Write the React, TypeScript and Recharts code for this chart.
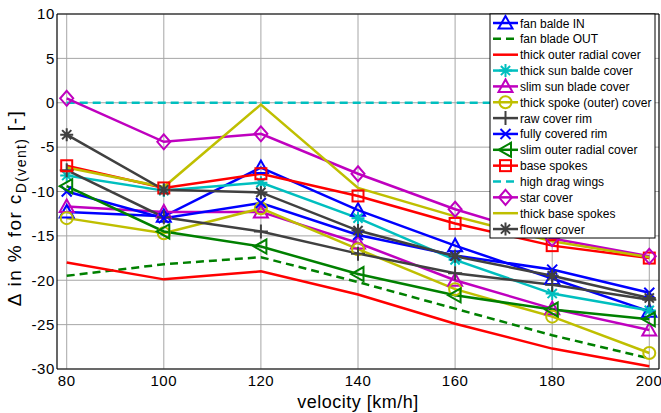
import React from 'react';
import { LineChart, Line, XAxis, YAxis, CartesianGrid, ReferenceLine } from 'recharts';

const velocities = [80, 100, 120, 140, 160, 180, 200];
const xTicks = [80, 100, 120, 140, 160, 180, 200];
const yTicks = [-30, -25, -20, -15, -10, -5, 0, 5, 10];

const fanBladeIn = [-12.3, -12.8, -7.3, -12.1, -16.1, -19.8, -23.5];
const fanBladeOut = [-19.5, -18.2, -17.4, -20.2, -23.2, -26.2, -28.8];
const thickOuterRadial = [-18.0, -19.9, -19.0, -21.6, -24.9, -27.7, -29.7];
const thickSunBlade = [-8.2, -9.9, -9.0, -13.0, -17.7, -21.5, -23.4];
const slimSunBlade = [-11.7, -12.3, -12.3, -15.8, -20.0, -23.2, -25.6];
const thickSpokeOuter = [-13.0, -14.7, -11.9, -16.5, -21.0, -24.1, -28.2];
const rawCoverRim = [-7.6, -12.9, -14.5, -17.0, -19.2, -20.5, -22.2];
const fullyCoveredRim = [-10.0, -13.0, -11.3, -14.9, -17.2, -18.8, -21.4];
const slimOuterRadial = [-9.4, -14.5, -16.2, -19.3, -21.7, -23.3, -24.4];
const baseSpokes = [-7.1, -9.6, -8.0, -10.5, -13.6, -16.1, -17.5];
const highDragWings = [0, 0, 0, 0, 0, 0, 0];
const starCover = [0.5, -4.4, -3.5, -8.0, -12.0, -15.3, -17.3];
const thickBaseSpokes = [-7.3, -9.5, -0.2, -9.6, -12.8, -15.6, -17.4];
const flowerCover = [-3.6, -9.8, -10.1, -14.4, -17.3, -19.5, -22.0];

const seriesNames = [
  'fan balde IN', 'fan blade OUT', 'thick outer radial cover', 'thick sun balde cover',
  'slim sun blade cover', 'thick spoke (outer) cover', 'raw cover rim', 'fully covered rim',
  'slim outer radial cover', 'base spokes', 'high drag wings', 'star cover',
  'thick base spokes', 'flower cover',
];
const seriesValues = [
  fanBladeIn, fanBladeOut, thickOuterRadial, thickSunBlade, slimSunBlade, thickSpokeOuter,
  rawCoverRim, fullyCoveredRim, slimOuterRadial, baseSpokes, highDragWings, starCover,
  thickBaseSpokes, flowerCover,
];

const BLUE = '#0000ff', GREEN = '#008000', RED = '#ff0000', CYAN = '#00bfbf',
  MAGENTA = '#bf00bf', YELLOW = '#bfbf00', GRAY = '#404040';

const styles = [
  { color: BLUE, marker: 'triUp', dash: undefined },
  { color: GREEN, marker: 'none', dash: '8 5' },
  { color: RED, marker: 'none', dash: undefined },
  { color: CYAN, marker: 'star', dash: undefined },
  { color: MAGENTA, marker: 'triUp', dash: undefined },
  { color: YELLOW, marker: 'circle', dash: undefined },
  { color: GRAY, marker: 'plus', dash: undefined },
  { color: BLUE, marker: 'x', dash: undefined },
  { color: GREEN, marker: 'triLeft', dash: undefined },
  { color: RED, marker: 'square', dash: undefined },
  { color: CYAN, marker: 'none', dash: '8 5' },
  { color: MAGENTA, marker: 'diamond', dash: undefined },
  { color: YELLOW, marker: 'none', dash: undefined },
  { color: GRAY, marker: 'star', dash: undefined },
];

const data = velocities.map((v, i) => {
  const row: any = { v };
  seriesValues.forEach((arr, k) => { row['s' + k] = arr[i]; });
  return row;
});

function Marker({ shape, cx, cy, color }: { shape: string; cx: number; cy: number; color: string }) {
  const p = { fill: 'none', stroke: color, strokeWidth: 2 };
  switch (shape) {
    case 'triUp':
      return <polygon {...p} points={`${cx},${cy - 7} ${cx - 7},${cy + 5.5} ${cx + 7},${cy + 5.5}`} />;
    case 'triLeft':
      return <polygon {...p} points={`${cx - 7},${cy} ${cx + 5.5},${cy - 7} ${cx + 5.5},${cy + 7}`} />;
    case 'circle':
      return <circle {...p} cx={cx} cy={cy} r={6} />;
    case 'square':
      return <rect {...p} x={cx - 5.5} y={cy - 5.5} width={11} height={11} />;
    case 'diamond':
      return <polygon {...p} points={`${cx},${cy - 7.5} ${cx + 6.5},${cy} ${cx},${cy + 7.5} ${cx - 6.5},${cy}`} />;
    case 'plus':
      return <path {...p} d={`M${cx - 7},${cy}H${cx + 7}M${cx},${cy - 7}V${cy + 7}`} />;
    case 'x':
      return <path {...p} d={`M${cx - 5},${cy - 5}L${cx + 5},${cy + 5}M${cx - 5},${cy + 5}L${cx + 5},${cy - 5}`} />;
    case 'star':
      return (
        <path {...p} d={`M${cx - 6.5},${cy}H${cx + 6.5}M${cx},${cy - 6.5}V${cy + 6.5}M${cx - 4.6},${cy - 4.6}L${cx + 4.6},${cy + 4.6}M${cx - 4.6},${cy + 4.6}L${cx + 4.6},${cy - 4.6}`} />
      );
    default:
      return null;
  }
}

const FONT = '"Liberation Sans", Arial, sans-serif';

function YLabel() {
  return (
    <text
      transform="translate(21,208) rotate(-90)"
      textAnchor="middle"
      fontFamily={FONT}
      fontSize={19}
      letterSpacing={1.4}
      fill="#000"
    >
      Δ in % for c<tspan fontSize={14} dy={5}>D(vent)</tspan><tspan dy={-5}> [-]</tspan>
    </text>
  );
}

function LegendBox() {
  const x0 = 490, y0 = 14, w = 165, h = 224;
  return (
    <svg width={661} height={413} style={{ position: 'absolute', left: 0, top: 0, pointerEvents: 'none' }}>
      <YLabel />
      <rect x={x0} y={y0} width={w} height={h} fill="#fff" stroke="#000" strokeWidth={1} />
      {seriesNames.map((name, i) => {
        const cy = 23 + i * 15.85;
        const st = styles[i];
        return (
          <g key={name}>
            <line x1={493} x2={518} y1={cy} y2={cy} stroke={st.color} strokeWidth={2.5} strokeDasharray={st.dash} />
            <Marker shape={st.marker} cx={505.5} cy={cy} color={st.color} />
            <text x={520} y={cy + 4.5} fontFamily={FONT} fontSize={12} fill="#000">{name}</text>
          </g>
        );
      })}
    </svg>
  );
}

export default function App() {
  return (
    <div style={{ position: 'absolute', left: 0, top: 0, width: 661, height: 413, background: '#fff' }}>
      <LineChart width={661} height={413} data={data} margin={{ top: 14, right: 2, bottom: 0, left: 0 }}>
        <CartesianGrid stroke="#a6a6a6" strokeWidth={1} verticalValues={xTicks} horizontalValues={yTicks} />
        <XAxis
          dataKey="v"
          type="number"
          domain={[78, 202]}
          ticks={xTicks}
          allowDataOverflow
          height={44}
          tickLine={false}
          tickSize={6}
          tickMargin={0}
          stroke="#000"
          tick={{ fill: '#000', fontSize: 15, fontFamily: FONT, letterSpacing: 0.5 }}
          axisLine={{ stroke: '#000', strokeWidth: 1.2 }}
          label={{ value: 'velocity [km/h]', position: 'insideBottom', offset: 5, fill: '#000', fontSize: 18, fontFamily: FONT, letterSpacing: 0.5 }}
        />
        <YAxis
          type="number"
          domain={[-30, 10]}
          ticks={yTicks}
          allowDataOverflow
          width={57}
          tickLine={false}
          tickSize={2}
          tickMargin={0}
          stroke="#000"
          tick={{ fill: '#000', fontSize: 15, fontFamily: FONT, letterSpacing: 0.6 }}
          axisLine={{ stroke: '#000', strokeWidth: 1.2 }}
        />
        <ReferenceLine y={10} stroke="#000" strokeWidth={1.2} />
        <ReferenceLine x={202} stroke="#000" strokeWidth={1.2} />
        {styles.map((st, k) => (
          <Line
            key={k}
            type="linear"
            dataKey={'s' + k}
            stroke={st.color}
            strokeWidth={2.5}
            strokeDasharray={st.dash}
            isAnimationActive={false}
            dot={st.marker === 'none' ? false : (props: any) => (
              <Marker key={props.index} shape={st.marker} cx={props.cx} cy={props.cy} color={st.color} />
            )}
            activeDot={false}
          />
        ))}
      </LineChart>
      <LegendBox />
    </div>
  );
}
